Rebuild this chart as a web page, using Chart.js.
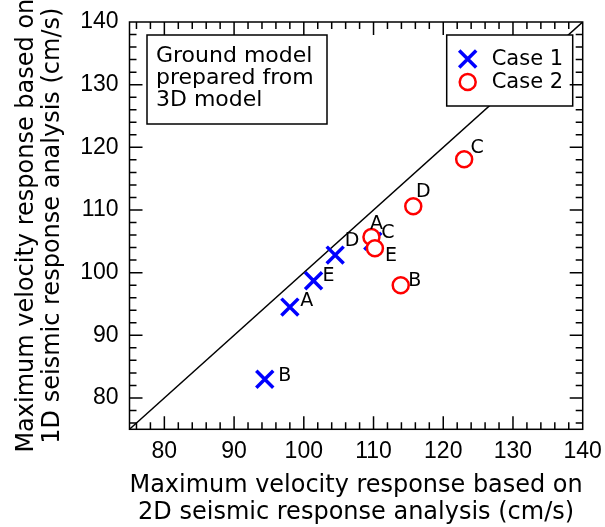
<!DOCTYPE html>
<html>
<head>
<meta charset="utf-8">
<script src="https://cdn.jsdelivr.net/npm/chart.js@4/dist/chart.umd.min.js"></script>
<style>
  html, body { margin: 0; padding: 0; background: #fff; }
  #wrap { width: 605px; height: 527px; }
</style>
</head>
<body>
<div id="wrap"><canvas id="chart-velocity" width="605" height="527"></canvas></div>
<script>
// Valeurs (cm/s)
const pointNames = ['A', 'B', 'C', 'D', 'E'];
const case1X = [98.0, 94.4, 109.9, 104.5, 101.4];
const case1Y = [94.5, 83.0, 105.0, 102.8, 98.7];
const case2X = [109.7, 113.9, 123.0, 115.7, 110.2];
const case2Y = [105.7, 98.0, 118.1, 110.6, 103.9];
const seriesNames = ['Case 1', 'Case 2'];

// ligne 1:1 et axes
const lineXY = [75, 140];
const axisMin = 75;
const axisMax = 140;
const tickValues = [80, 90, 100, 110, 120, 130, 140];
const minorStep = 2;

const noteLines = ['Ground model', 'prepared from', '3D model'];
const xTitle = ['Maximum velocity response based on', '2D seismic response analysis (cm/s)'];
const yTitle = ['Maximum velocity response based on', '1D seismic response analysis (cm/s)'];

// decalage des lettres par rapport aux marqueurs (px)
const labelOffsets = [
    [[17, -6], [20, -3], [15, -8], [17, -14], [15, -5]],
    [[5, -13], [14, -4], [13, -11], [10, -14], [16, 8]]
];

const BLUE = '#0000ff';
const RED = '#ff0000';

const toPoints = (xs, ys) => xs.map((x, i) => ({ x: x, y: ys[i] }));

// ticks vers l'interieur + cadre
const frameTicks = {
    id: 'frameTicks',
    afterDraw(chart) {
        const { ctx, chartArea: a, scales } = chart;
        ctx.save();
        ctx.strokeStyle = '#000';
        ctx.lineWidth = 1.5;
        ctx.beginPath();
        for (let v = axisMin + 1; v < axisMax; v += 1) {
            if ((v % minorStep) !== 0) continue;
            const len = (v % 10 === 0) ? 13 : 7;
            const px = scales.x.getPixelForValue(v);
            const py = scales.y.getPixelForValue(v);
            ctx.moveTo(px, a.bottom); ctx.lineTo(px, a.bottom - len);
            ctx.moveTo(px, a.top); ctx.lineTo(px, a.top + len);
            ctx.moveTo(a.left, py); ctx.lineTo(a.left + len, py);
            ctx.moveTo(a.right, py); ctx.lineTo(a.right - len, py);
        }
        ctx.stroke();
        ctx.strokeRect(a.left, a.top, a.right - a.left, a.bottom - a.top);
        ctx.restore();
    }
};

function drawCross(ctx, x, y, r) {
    ctx.beginPath();
    ctx.moveTo(x - r, y - r); ctx.lineTo(x + r, y + r);
    ctx.moveTo(x - r, y + r); ctx.lineTo(x + r, y - r);
    ctx.stroke();
}

// lettres, encadre de texte et legende
const annotations = {
    id: 'annotations',
    afterDatasetsDraw(chart) {
        const { ctx, chartArea: a } = chart;
        ctx.save();

        // lettres A-E
        ctx.font = '19px "DejaVu Sans"';
        ctx.fillStyle = '#000';
        ctx.textAlign = 'center';
        ctx.textBaseline = 'middle';
        [1, 2].forEach((di, s) => {
            const meta = chart.getDatasetMeta(di);
            meta.data.forEach((el, i) => {
                const off = labelOffsets[s][i];
                ctx.fillText(pointNames[i], el.x + off[0], el.y + off[1]);
            });
        });

        // encadre "Ground model ..."
        const nx = a.left + 17.5, ny = a.top + 13;
        ctx.fillStyle = '#fff';
        ctx.fillRect(nx, ny, 180, 89);
        ctx.strokeStyle = '#000';
        ctx.lineWidth = 1.5;
        ctx.strokeRect(nx, ny, 180, 89);
        ctx.fillStyle = '#000';
        ctx.textAlign = 'left';
        ctx.font = '22px "DejaVu Sans"';
        noteLines.forEach((t, i) => ctx.fillText(t, nx + 9, ny + 21 + i * 22));

        // legende
        const lx = a.right - 136, ly = a.top + 13;
        ctx.fillStyle = '#fff';
        ctx.fillRect(lx, ly, 126, 71);
        ctx.strokeRect(lx, ly, 126, 71);
        ctx.lineWidth = 3.5;
        ctx.strokeStyle = BLUE;
        drawCross(ctx, lx + 21, ly + 24, 8.5);
        ctx.lineWidth = 2.5;
        ctx.strokeStyle = RED;
        ctx.beginPath();
        ctx.arc(lx + 21, ly + 47, 8, 0, Math.PI * 2);
        ctx.stroke();
        ctx.fillStyle = '#000';
        ctx.font = '21px "DejaVu Sans"';
        seriesNames.forEach((t, i) => ctx.fillText(t, lx + 45, ly + 25 + i * 23));

        ctx.restore();
    }
};

const tickFont = { family: '"Liberation Sans", Arial', size: 23 };
const titleFont = { family: '"DejaVu Sans"', size: 24, lineHeight: 1.11 };

new Chart(document.getElementById('chart-velocity'), {
    type: 'scatter',
    data: {
        datasets: [
            {
                type: 'line',
                data: toPoints(lineXY, lineXY),
                borderColor: '#000',
                borderWidth: 1.5,
                pointRadius: 0,
                order: 3
            },
            {
                label: seriesNames[0],
                data: toPoints(case1X, case1Y),
                pointStyle: 'crossRot',
                pointRadius: 12,
                borderColor: BLUE,
                borderWidth: 3.5,
                order: 2
            },
            {
                label: seriesNames[1],
                data: toPoints(case2X, case2Y),
                pointStyle: 'circle',
                pointRadius: 8,
                backgroundColor: '#fff',
                borderColor: RED,
                borderWidth: 2.5,
                order: 1
            }
        ]
    },
    options: {
        responsive: false,
        animation: false,
        events: [],
        layout: { padding: { top: 22, right: 22.3, left: 0, bottom: 0 } },
        plugins: {
            legend: { display: false },
            tooltip: { enabled: false }
        },
        scales: {
            x: {
                type: 'linear',
                min: axisMin,
                max: axisMax,
                grid: { display: false, drawTicks: false },
                border: { display: false },
                afterBuildTicks: s => { s.ticks = tickValues.map(v => ({ value: v })); },
                afterFit: s => { s.height = 97.7; s.paddingLeft = 0; s.paddingRight = 0; },
                ticks: { color: '#000', font: tickFont, padding: 9, maxRotation: 0 },
                title: { display: true, text: xTitle, color: '#000', font: titleFont, padding: { top: 0, bottom: 1 } }
            },
            y: {
                type: 'linear',
                min: axisMin,
                max: axisMax,
                grid: { display: false, drawTicks: false },
                border: { display: false },
                afterBuildTicks: s => { s.ticks = tickValues.map(v => ({ value: v })); },
                afterFit: s => { s.width = 129.5; s.paddingTop = 0; s.paddingBottom = 0; },
                ticks: { color: '#000', font: tickFont, padding: 11 },
                title: { display: true, text: yTitle, color: '#000', font: titleFont, padding: { top: 13, bottom: 0 } }
            }
        }
    },
    plugins: [frameTicks, annotations]
});
</script>
</body>
</html>
